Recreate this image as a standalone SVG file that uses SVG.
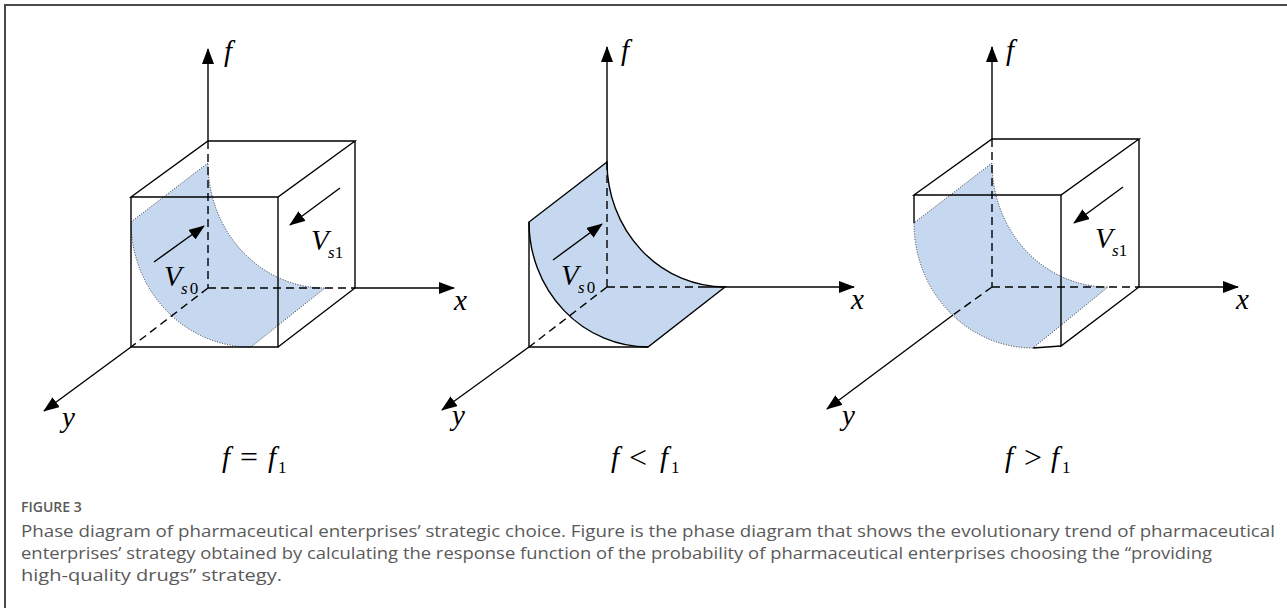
<svg xmlns="http://www.w3.org/2000/svg" width="1287" height="608" viewBox="0 0 1287 608">
<defs>
<marker id="ah" markerUnits="userSpaceOnUse" markerWidth="16" markerHeight="12" refX="15" refY="6" orient="auto">
<path d="M0,0 L16,6 L0,12 z" fill="#000"/>
</marker>
<style>
.ln{stroke:#000;stroke-width:1.4;fill:none}
.da{stroke:#000;stroke-width:1.4;fill:none;stroke-dasharray:8 5}
.ar{stroke:#000;stroke-width:1.4;fill:none;marker-end:url(#ah)}
.sh{fill:#c6d8ef;stroke:none}
.dt{fill:none;stroke:#333;stroke-width:1;stroke-dasharray:1 1.6}
.sd{fill:#c6d8ef;stroke:#000;stroke-width:1.4}
.m{font-family:"Liberation Serif","Times New Roman",serif;font-style:italic;fill:#000}
.up{font-style:normal}
.cap{font-family:"Open Sans","Liberation Sans",sans-serif;fill:#5a5a5a}
</style>
</defs>
<rect x="0" y="0" width="1287" height="608" fill="#fff"/>
<g id="frame">
<path d="M5,608 L5,5 L1287,5" fill="none" stroke="#4a4a4a" stroke-width="2"/>
</g>

<g id="panel1">
<path class="sh" d="M208,163 L131,222 A120,125 0 0 0 251,347 L325,288 A117,125 0 0 1 208,163 Z"/>
<path class="dt" d="M208,163 L131,222 A120,125 0 0 0 251,347 L325,288 A117,125 0 0 1 208,163 Z"/>
<line class="da" x1="208" y1="141" x2="208" y2="288"/>
<line class="da" x1="208" y1="288" x2="355" y2="288"/>
<line class="da" x1="208" y1="288" x2="131" y2="347"/>
<path class="ln" d="M208,141 L355,141 L278,197 L131,197 Z"/>
<path class="ln" d="M131,197 L131,347 L278,347 L278,197"/>
<path class="ln" d="M355,141 L355,288 L278,347"/>
</g>

<g id="panel2">
<path class="sd" d="M607,162 L529,222 A119,125 0 0 0 648,347 L725,287 A118,125 0 0 1 607,162 Z"/>
<line class="da" x1="607" y1="162" x2="607" y2="287"/>
<line class="da" x1="607" y1="287" x2="706" y2="287"/>
<line class="da" x1="607" y1="287" x2="529" y2="347"/>
<path class="ln" d="M529,222 L529,347 L648,347"/>
</g>

<g id="panel3">
<path class="sh" d="M992,163 L914,223 A119,125 0 0 0 1033,348 L1108,287 A116,124 0 0 1 992,163 Z"/>
<path class="dt" d="M992,163 L914,223 A119,125 0 0 0 1033,348 L1108,287 A116,124 0 0 1 992,163 Z"/>
<line class="da" x1="992" y1="139" x2="992" y2="287"/>
<line class="da" x1="992" y1="287" x2="1139" y2="287"/>
<line class="da" x1="992" y1="287" x2="953" y2="315"/>
<path class="ln" d="M992,139 L1139,139 L1061,195 L914,195 Z"/>
<path class="ln" d="M914,195 L914,223"/>
<path class="ln" d="M1061,195 L1061,346 L1139,287 L1139,139"/>
<path class="ln" d="M1033,348 L1061,346"/>
</g>

<g id="connectors">
<line class="ar" x1="208" y1="141" x2="208" y2="49"/>
<line class="ar" x1="355" y1="288" x2="454" y2="288"/>
<line class="ar" x1="131" y1="347" x2="44" y2="411"/>
<line class="ar" x1="154" y1="262" x2="204" y2="226"/>
<line class="ar" x1="340" y1="188" x2="290" y2="225"/>

<line class="ar" x1="607" y1="162" x2="607" y2="47"/>
<line class="ar" x1="706" y1="287" x2="854" y2="287"/>
<line class="ar" x1="529" y1="347" x2="442" y2="410"/>
<line class="ar" x1="553" y1="260" x2="602" y2="224"/>

<line class="ar" x1="992" y1="139" x2="992" y2="47"/>
<line class="ar" x1="1139" y1="287" x2="1238" y2="287"/>
<line class="ar" x1="953" y1="315" x2="827" y2="409"/>
<line class="ar" x1="1123" y1="187" x2="1074" y2="223"/>
</g>

<g id="labels">
<text class="m" x="224" y="61" font-size="29">f</text>
<text class="m" x="454" y="310" font-size="29">x</text>
<text class="m" x="62" y="427" font-size="29">y</text>
<text class="m" x="164" y="286" font-size="29">V</text>
<text class="m" x="181" y="294" font-size="17">s<tspan class="up" dx="2">0</tspan></text>
<text class="m" x="311" y="250" font-size="29">V</text>
<text class="m" x="328" y="258" font-size="17">s<tspan class="up" dx="0">1</tspan></text>

<text class="m" x="621" y="60" font-size="29">f</text>
<text class="m" x="851" y="309" font-size="29">x</text>
<text class="m" x="452" y="425" font-size="29">y</text>
<text class="m" x="561" y="285" font-size="29">V</text>
<text class="m" x="578" y="293" font-size="17">s<tspan class="up" dx="2">0</tspan></text>

<text class="m" x="1006" y="60" font-size="29">f</text>
<text class="m" x="1236" y="309" font-size="29">x</text>
<text class="m" x="842" y="425" font-size="29">y</text>
<text class="m" x="1095" y="248" font-size="29">V</text>
<text class="m" x="1112" y="256" font-size="17">s<tspan class="up" dx="0">1</tspan></text>

<text class="m" x="222" y="467" font-size="29">f</text>
<text class="m up" x="240" y="467" font-size="29" textLength="18" lengthAdjust="spacingAndGlyphs">=</text>
<text class="m" x="268" y="467" font-size="29">f</text>
<text class="m up" x="278" y="473" font-size="17">1</text>

<text class="m" x="611" y="467" font-size="29">f</text>
<text class="m up" x="629" y="468" font-size="32">&lt;</text>
<text class="m" x="660" y="467" font-size="29">f</text>
<text class="m up" x="671" y="473" font-size="17">1</text>

<text class="m" x="1005" y="467" font-size="29">f</text>
<text class="m up" x="1024" y="468" font-size="32">&gt;</text>
<text class="m" x="1051" y="467" font-size="29">f</text>
<text class="m up" x="1062" y="473" font-size="17">1</text>
</g>

<g id="caption">
<text class="cap" x="21" y="512" font-size="14" font-weight="600" fill="#4a4a4a">FIGURE 3</text>
<text class="cap" x="21" y="537" font-size="16.5" textLength="1254" lengthAdjust="spacingAndGlyphs">Phase diagram of pharmaceutical enterprises’ strategic choice. Figure is the phase diagram that shows the evolutionary trend of pharmaceutical</text>
<text class="cap" x="21" y="559" font-size="16.5" textLength="1191" lengthAdjust="spacingAndGlyphs">enterprises’ strategy obtained by calculating the response function of the probability of pharmaceutical enterprises choosing the “providing</text>
<text class="cap" x="21" y="581" font-size="16.5" textLength="261" lengthAdjust="spacingAndGlyphs">high-quality drugs” strategy.</text>
</g>
</svg>
